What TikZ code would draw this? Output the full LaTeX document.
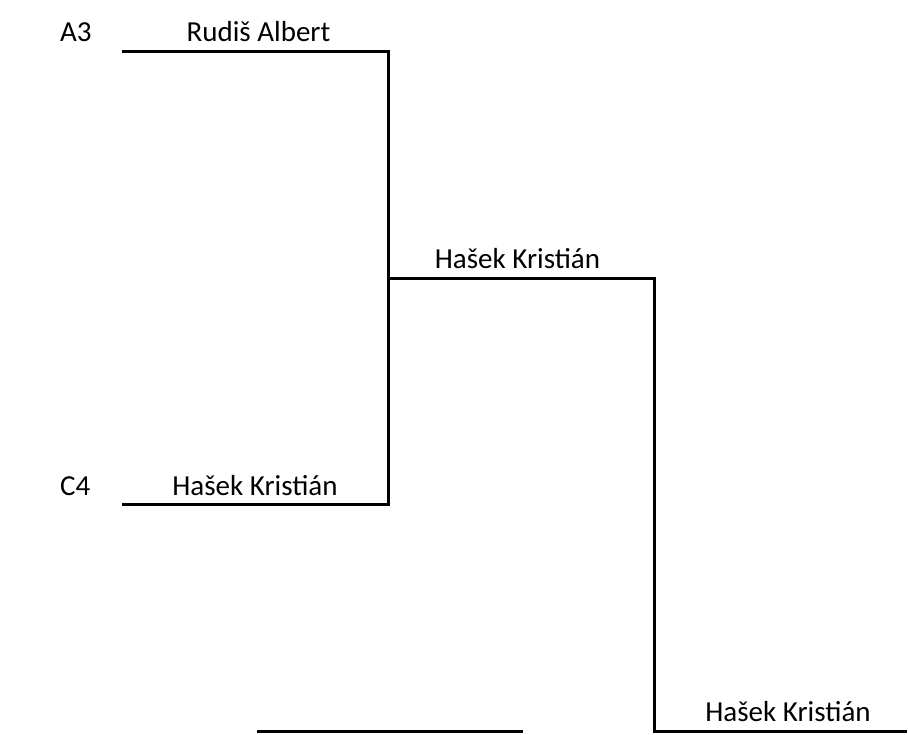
\documentclass[tikz,border=0pt]{standalone}
\usepackage{fontspec}
\setmainfont{Carlito}
\begin{document}
\begin{tikzpicture}[x=1pt,y=-1pt,
  bline/.style={line width=3pt, line cap=rect},
  lbl/.style={anchor=base, inner sep=0pt, font=\fontsize{29}{34}\selectfont},
  seed/.style={anchor=base west, inner sep=0pt, font=\fontsize{29}{34}\selectfont}]
\useasboundingbox (0,0) rectangle (908,734);
% coordinates
\coordinate (a1) at (123,51);
\coordinate (a2) at (388,51);
\coordinate (c1) at (123,504);
\coordinate (c2) at (388,504);
\coordinate (m1) at (388,278);
\coordinate (m2) at (654,278);
\coordinate (f1) at (654,731);
\coordinate (f2) at (905,731);
\coordinate (b1) at (258,731);
\coordinate (b2) at (521,731);
% lines
\draw[bline] (a1) -- (a2) -- (c2) -- (c1);
\draw[bline] (m1) -- (m2) -- (f1) -- (f2);
\draw[bline] (b1) -- (b2);
% labels
\node[seed] (sa) at (60,41.5) {A3};
\node[seed] (sc) at (60,495) {C4};
\node[lbl] (la) at (258.5,41.5) {Rudiš Albert};
\node[lbl] (lc) at (255,495) {Hašek Kristián};
\node[lbl] (lm) at (517.5,268) {Hašek Kristián};
\node[lbl] (lf) at (788,721) {Hašek Kristián};
\end{tikzpicture}
\end{document}
